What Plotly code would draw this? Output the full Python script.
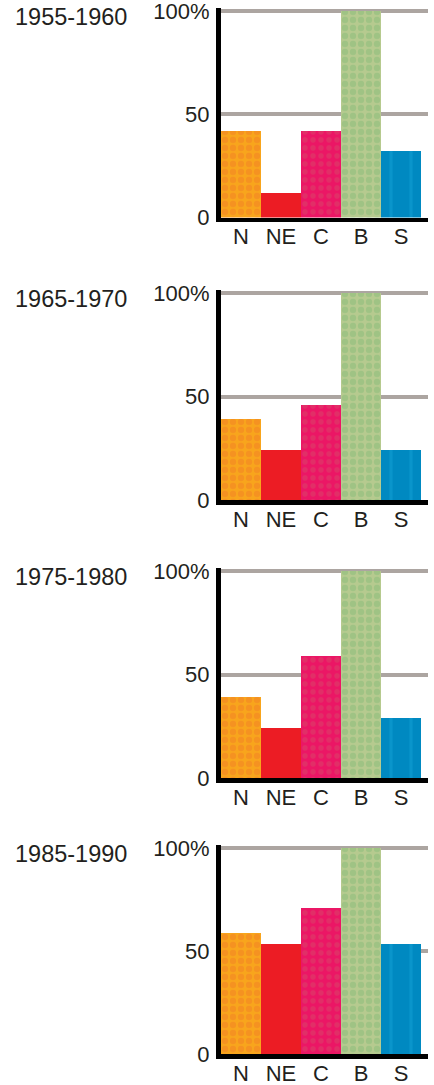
import plotly.graph_objects as go

periods = ["1955-1960", "1965-1970", "1975-1980", "1985-1990"]
regions = ["N", "NE", "C", "B", "S"]
values_1955 = [42, 12, 42, 100, 32]
values_1965 = [39, 24, 46, 100, 24]
values_1975 = [39, 24, 59, 100, 29]
values_1985 = [58.5, 53.5, 71, 100, 53.5]
panel_values = [values_1955, values_1965, values_1975, values_1985]
y_tick_vals = [0, 50, 100]
y_tick_text = ["0", "50", "100%"]

W, H = 434, 1085


def fx(px):
    return min(1.0, max(0.0, px / W))


def fy(py):
    return min(1.0, max(0.0, 1 - py / H))


# pixel positions (top = value 100, bottom = value 0) of each panel
tops = [11, 293, 571, 848]
bottoms = [217.5, 500, 778, 1054]

bar_styles = [
    dict(color="#f5951f", pattern=dict(shape=".", fgcolor="#f27f26", bgcolor="#f8a51c", size=8, solidity=0.5)),
    dict(color="#ec1c24"),
    dict(color="#eb1665", pattern=dict(shape=".", fgcolor="#d8476a", bgcolor="#eb1665", size=8, solidity=0.35)),
    dict(color="#a8c58a", pattern=dict(shape=".", fgcolor="#88bb7a", bgcolor="#b6ca8f", size=8, solidity=0.5)),
    dict(color="#0089c1", pattern=dict(shape="|", fgcolor="#14a2d6", bgcolor="#0089c1", size=20, solidity=0.15)),
]

font = "Liberation Sans, Arial, Helvetica, sans-serif"
txt_color = "#231f20"

fig = go.Figure()
x0 = fx(221)
x1 = fx(428)
# x range so that each bar is 40 px wide, starting at the left edge
px_per_unit = 40.0
x_hi = -0.5 + (x1 - x0) * W / px_per_unit
layout = {}
for i, vals in enumerate(panel_values):
    ax = "" if i == 0 else str(i + 1)
    ppu = (bottoms[i] - tops[i]) / 100.0
    top_px = tops[i] - 1.5 * ppu
    for j, r in enumerate(regions):
        fig.add_trace(go.Bar(
            x=[j], y=[vals[j]], xaxis="x" + ax, yaxis="y" + ax,
            marker=dict(line=dict(width=0), **bar_styles[j]),
            width=1.0, showlegend=False, hoverinfo="skip",
        ))
    layout["xaxis" + ax] = dict(
        domain=[x0, x1], anchor="y" + ax, range=[-0.5, x_hi],
        tickmode="array", tickvals=list(range(len(regions))), ticktext=regions,
        showgrid=False, zeroline=False, showline=True, linecolor="#000000", linewidth=4.5,
        ticks="", tickfont=dict(family=font, size=22, color=txt_color),
        ticklabelstandoff=-4, ticklabeloverflow="allow",
        fixedrange=True, automargin=False,
    )
    layout["yaxis" + ax] = dict(
        domain=[fy(bottoms[i]), fy(top_px)], anchor="x" + ax, range=[0, 101.5],
        tickmode="array", tickvals=y_tick_vals, ticktext=y_tick_text,
        showgrid=True, gridcolor="#aca5a1", gridwidth=4,
        zeroline=False, showline=True, linecolor="#000000", linewidth=5,
        ticks="", tickfont=dict(family=font, size=22, color=txt_color),
        ticklabelstandoff=2, ticklabeloverflow="allow",
        fixedrange=True, automargin=False,
    )
    fig.add_annotation(
        text=periods[i], xref="paper", yref="paper", x=fx(13), y=fy(tops[i] + 6),
        xanchor="left", yanchor="middle", showarrow=False,
        font=dict(family=font, size=23.5, color=txt_color),
    )

fig.update_layout(
    width=W, height=H, margin=dict(l=0, r=0, t=0, b=0, autoexpand=False),
    paper_bgcolor="white", plot_bgcolor="white", bargap=0,
    **layout,
)
fig.write_html(
    "out.html",
    config={"displayModeBar": False, "staticPlot": True},
    post_script="document.body.style.margin='0px';",
)
